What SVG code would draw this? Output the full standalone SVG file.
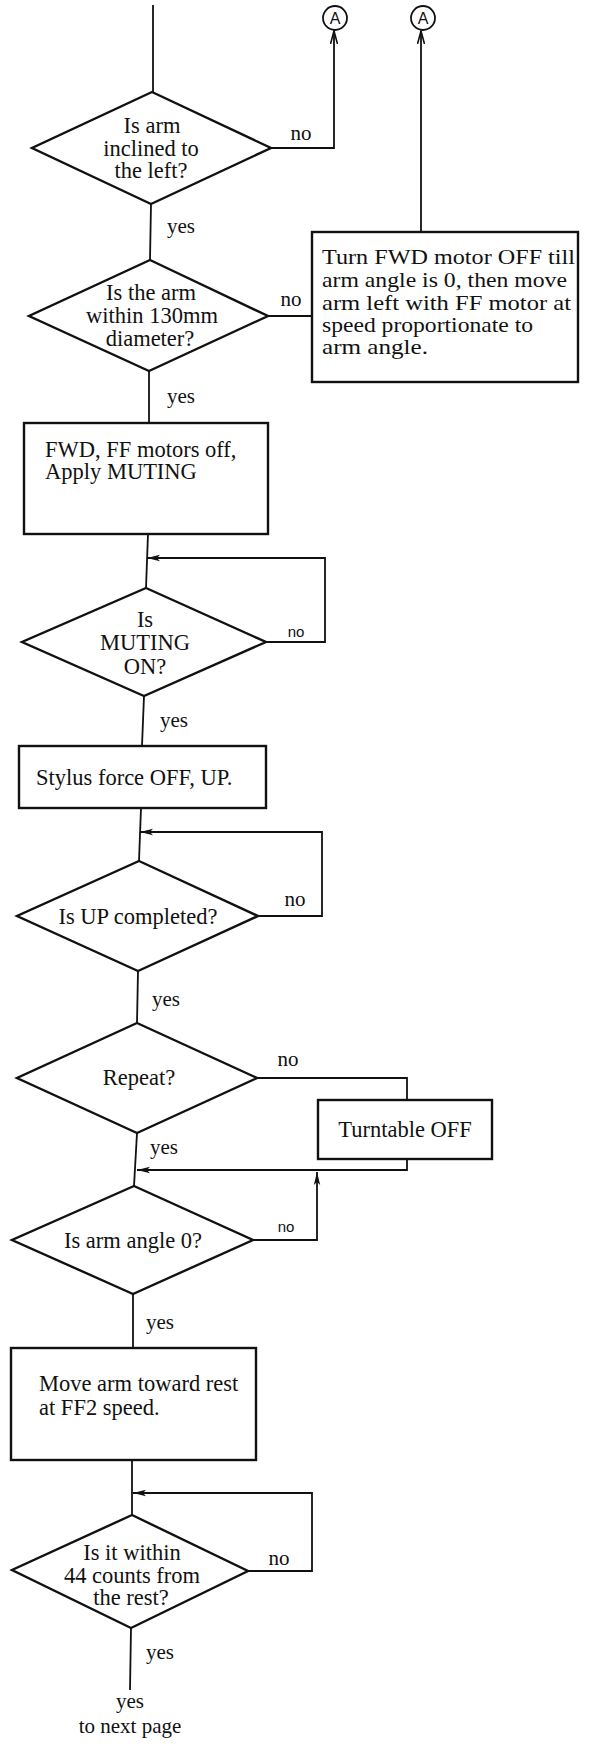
<svg xmlns="http://www.w3.org/2000/svg" width="589" height="1750" viewBox="0 0 589 1750">
<style>
.shape{fill:none;stroke:#111;stroke-width:2.4;stroke-linejoin:miter}
.line{fill:none;stroke:#111;stroke-width:1.8}
.t{font-family:"Liberation Serif","Times New Roman",serif;font-size:22.5px;fill:#111}
.tc{text-anchor:middle}
.big{font-size:22px}
.lbl{font-family:"Liberation Serif","Times New Roman",serif;font-size:21px;fill:#111}
.sl{font-family:"Liberation Sans",Arial,sans-serif;font-size:15px;fill:#111;text-anchor:middle}
.ca{font-family:"Liberation Sans",Arial,sans-serif;font-size:16px;fill:#111;text-anchor:middle}
</style>
<defs>
<marker id="open" viewBox="0 0 14 8" refX="13" refY="4" markerWidth="14" markerHeight="8" markerUnits="userSpaceOnUse" orient="auto">
<path d="M0,0.5 L13,4 L0,7.5" fill="none" stroke="#111" stroke-width="1.6"/>
</marker>
<marker id="barb" viewBox="0 0 14 8" refX="13" refY="4" markerWidth="14" markerHeight="8" markerUnits="userSpaceOnUse" orient="auto">
<path d="M0,0.8 L13,4 L0,7.2 L3,4 Z" fill="#111"/>
</marker>
</defs>

<g id="connectors">
<line class="line" x1="153" y1="5" x2="153" y2="92"/>
<polyline class="line" points="271,148 334,148 334,31" marker-end="url(#open)"/>
<polyline class="line" points="421,232 421,31" marker-end="url(#open)"/>
<line class="line" x1="151" y1="204" x2="150" y2="260"/>
<line class="line" x1="268" y1="316" x2="312" y2="316"/>
<line class="line" x1="149" y1="371" x2="149" y2="423"/>
<line class="line" x1="148" y1="534" x2="146" y2="588"/>
<polyline class="line" points="266,642 325,642 325,558 147,558" marker-end="url(#barb)"/>
<line class="line" x1="144" y1="696" x2="142" y2="746"/>
<line class="line" x1="141" y1="808" x2="139" y2="861"/>
<polyline class="line" points="258,916 322,916 322,832 140,832" marker-end="url(#barb)"/>
<line class="line" x1="138" y1="971" x2="137" y2="1023"/>
<polyline class="line" points="257,1078 407,1078 407,1100"/>
<polyline class="line" points="407,1159 407,1170 137,1170" marker-end="url(#barb)"/>
<line class="line" x1="137" y1="1133" x2="134" y2="1186"/>
<polyline class="line" points="253,1240 317,1240 317,1172" marker-end="url(#barb)"/>
<line class="line" x1="133" y1="1294" x2="133" y2="1348"/>
<line class="line" x1="132" y1="1460" x2="132" y2="1515"/>
<polyline class="line" points="248,1571 312,1571 312,1493 133,1493" marker-end="url(#barb)"/>
<line class="line" x1="131" y1="1628" x2="130" y2="1690"/>
<text class="lbl tc" x="301" y="140">no</text>
<text class="lbl" x="167" y="233">yes</text>
<text class="lbl tc" x="291" y="306">no</text>
<text class="lbl" x="167" y="403">yes</text>
<text class="sl" x="296" y="637">no</text>
<text class="lbl" x="160" y="727">yes</text>
<text class="lbl tc" x="295" y="906">no</text>
<text class="lbl" x="152" y="1006">yes</text>
<text class="lbl tc" x="288" y="1066">no</text>
<text class="lbl" x="150" y="1154">yes</text>
<text class="sl" x="286" y="1232">no</text>
<text class="lbl" x="146" y="1329">yes</text>
<text class="lbl tc" x="279" y="1565">no</text>
<text class="lbl" x="146" y="1659">yes</text>
</g>

<g id="connA1">
<circle class="line" cx="335" cy="18" r="12"/>
<text class="ca" x="335" y="24">A</text>
</g>
<g id="connA2">
<circle class="line" cx="423" cy="18" r="12"/>
<text class="ca" x="423" y="24">A</text>
</g>

<g id="d1">
<polygon class="shape" points="152,92 271,148 151,204 32,148"/>
<text class="t tc" x="152" y="133">Is arm</text>
<text class="t tc" x="151" y="156">inclined to</text>
<text class="t tc" x="151" y="178">the left?</text>
</g>

<g id="d2">
<polygon class="shape" points="150,260 268,316 149,371 29,316"/>
<text class="t tc" x="151" y="300">Is the arm</text>
<text class="t tc" x="152" y="323">within 130mm</text>
<text class="t tc" x="150" y="346">diameter?</text>
</g>

<g id="boxTurn">
<rect class="shape" x="312" y="232" width="266" height="150"/>
<text class="t big" x="322" y="264" textLength="253" lengthAdjust="spacingAndGlyphs">Turn FWD motor OFF till</text>
<text class="t big" x="322" y="287" textLength="245" lengthAdjust="spacingAndGlyphs">arm angle is 0, then move</text>
<text class="t big" x="322" y="310" textLength="249" lengthAdjust="spacingAndGlyphs">arm left with FF motor at</text>
<text class="t big" x="322" y="332" textLength="211" lengthAdjust="spacingAndGlyphs">speed proportionate to</text>
<text class="t big" x="322" y="354" textLength="106" lengthAdjust="spacingAndGlyphs">arm angle.</text>
</g>

<g id="boxMute">
<rect class="shape" x="24" y="423" width="244" height="111"/>
<text class="t" x="45" y="457">FWD, FF motors off,</text>
<text class="t" x="45" y="479">Apply MUTING</text>
</g>

<g id="d3">
<polygon class="shape" points="146,588 266,642 144,696 22,642"/>
<text class="t tc" x="145" y="627">Is</text>
<text class="t tc" x="145" y="650">MUTING</text>
<text class="t tc" x="145" y="674">ON?</text>
</g>

<g id="boxStylus">
<rect class="shape" x="19" y="746" width="247" height="62"/>
<text class="t" x="36" y="785">Stylus force OFF, UP.</text>
</g>

<g id="d4">
<polygon class="shape" points="139,861 258,916 138,971 17,916"/>
<text class="t tc" x="138" y="924">Is UP completed?</text>
</g>

<g id="d5">
<polygon class="shape" points="137,1023 257,1078 137,1133 17,1078"/>
<text class="t tc" x="139" y="1085">Repeat?</text>
</g>

<g id="boxTurntable">
<rect class="shape" x="318" y="1100" width="174" height="59"/>
<text class="t tc" x="405" y="1137">Turntable OFF</text>
</g>

<g id="d6">
<polygon class="shape" points="134,1186 253,1240 133,1294 12,1240"/>
<text class="t tc" x="133" y="1248">Is arm angle 0?</text>
</g>

<g id="boxMove">
<rect class="shape" x="11" y="1348" width="245" height="112"/>
<text class="t" x="39" y="1391">Move arm toward rest</text>
<text class="t" x="39" y="1415">at FF2 speed.</text>
</g>

<g id="d7">
<polygon class="shape" points="132,1515 248,1571 131,1628 12,1570"/>
<text class="t tc" x="132" y="1560">Is it within</text>
<text class="t tc" x="132" y="1583">44 counts from</text>
<text class="t tc" x="131" y="1605">the rest?</text>
</g>

<g id="nextPage">
<text class="lbl tc" x="130" y="1708">yes</text>
<text class="lbl tc" x="130" y="1733">to next page</text>
</g>
</svg>
